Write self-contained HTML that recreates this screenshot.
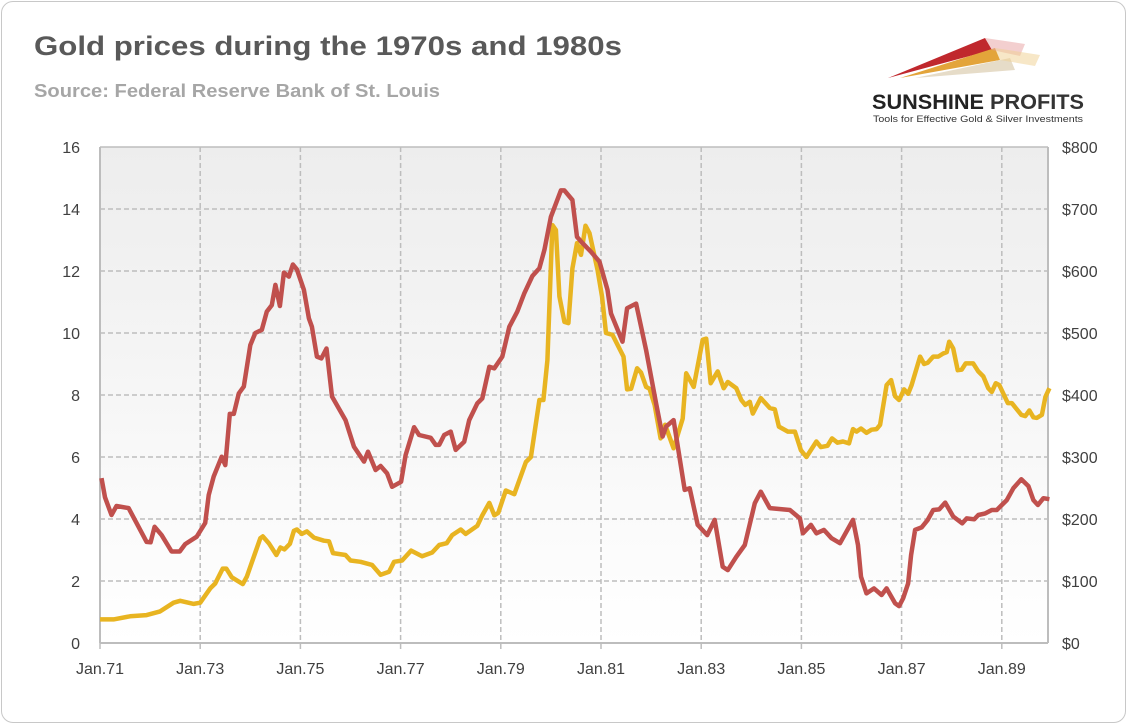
<!DOCTYPE html>
<html><head><meta charset="utf-8"><style>
html,body{margin:0;padding:0;background:#fff;}
body{width:1127px;height:724px;overflow:hidden;font-family:"Liberation Sans",sans-serif;}
.card{position:absolute;left:1px;top:1px;width:1123px;height:720px;border:1px solid #c8c8c8;border-radius:12px;background:#fff;}
</style></head><body>
<div class="card"></div>
<svg width="1127" height="724" style="position:absolute;left:0;top:0">
<defs>
<linearGradient id="bg" x1="0" y1="0" x2="0" y2="1"><stop offset="0" stop-color="#ededed"/><stop offset="1" stop-color="#ffffff"/></linearGradient>
</defs>
<text x="34" y="55" font-size="27" font-weight="bold" fill="#595959" textLength="588" lengthAdjust="spacingAndGlyphs">Gold prices during the 1970s and 1980s</text>
<text x="34" y="97" font-size="18" font-weight="bold" fill="#a6a6a6" textLength="406" lengthAdjust="spacingAndGlyphs">Source: Federal Reserve Bank of St. Louis</text>
<g>
<polygon points="888,78 985,38 992,50" fill="#c0282d"/>
<polygon points="900,78 995,48 1000,60" fill="#e3a43a"/>
<polygon points="915,78 1010,58 1015,70" fill="#e6dcc8"/>
<polygon points="985,38 1025,44 1020,56 992,50" fill="#e8a0a0" opacity="0.5"/>
<polygon points="995,48 1040,55 1035,66 1000,60" fill="#f0d090" opacity="0.5"/>
<text x="872" y="109" font-size="21" font-weight="bold" fill="#222" textLength="212" lengthAdjust="spacingAndGlyphs">SUNSHINE <tspan font-weight="bold" fill="#333">PROFITS</tspan></text>
<text x="873" y="122" font-size="9.5" fill="#333" textLength="210" lengthAdjust="spacingAndGlyphs">Tools for Effective Gold &amp; Silver Investments</text>
</g>
<rect x="100" y="147" width="948" height="496" fill="url(#bg)"/>
<g id="grid"></g>
<g id="axes"></g>
<g id="series"></g>
</svg>
<script>
const leftTicks=[0,2,4,6,8,10,12,14,16];
const rightTicks=["$0","$100","$200","$300","$400","$500","$600","$700","$800"];
const xTickYears=[1971,1973,1975,1977,1979,1981,1983,1985,1987,1989];
const xTickLabels=["Jan.71","Jan.73","Jan.75","Jan.77","Jan.79","Jan.81","Jan.83","Jan.85","Jan.87","Jan.89"];
const redT=[1971.03,1971.1,1971.23,1971.33,1971.57,1971.93,1972.01,1972.09,1972.23,1972.43,1972.59,1972.7,1972.93,1973.1,1973.17,1973.27,1973.43,1973.5,1973.59,1973.67,1973.77,1973.87,1974.0,1974.1,1974.23,1974.33,1974.43,1974.5,1974.59,1974.67,1974.77,1974.85,1974.93,1975.07,1975.17,1975.23,1975.33,1975.42,1975.52,1975.63,1975.9,1976.07,1976.27,1976.35,1976.5,1976.6,1976.73,1976.83,1977.01,1977.1,1977.27,1977.37,1977.6,1977.7,1977.77,1977.87,1978.0,1978.1,1978.27,1978.37,1978.53,1978.63,1978.77,1978.87,1979.03,1979.17,1979.33,1979.47,1979.63,1979.77,1979.87,1980.0,1980.2,1980.27,1980.43,1980.52,1980.63,1980.8,1980.97,1981.13,1981.2,1981.43,1981.52,1981.7,1981.9,1982.1,1982.23,1982.3,1982.45,1982.67,1982.77,1982.93,1983.12,1983.27,1983.43,1983.53,1983.7,1983.87,1984.07,1984.19,1984.37,1984.77,1984.97,1985.03,1985.19,1985.3,1985.45,1985.6,1985.77,1986.03,1986.13,1986.19,1986.3,1986.45,1986.6,1986.7,1986.87,1986.95,1987.03,1987.13,1987.19,1987.27,1987.4,1987.52,1987.63,1987.75,1987.87,1988.03,1988.21,1988.3,1988.45,1988.53,1988.67,1988.8,1988.9,1989.0,1989.1,1989.23,1989.39,1989.53,1989.63,1989.72,1989.83,1989.95];
const redV=[5.32,4.7,4.13,4.42,4.35,3.26,3.25,3.75,3.48,2.95,2.95,3.19,3.43,3.87,4.77,5.37,6.01,5.74,7.39,7.39,8.05,8.27,9.61,10.0,10.1,10.69,10.9,11.55,10.87,11.95,11.82,12.21,12.05,11.39,10.47,10.2,9.24,9.18,9.5,7.95,7.19,6.33,5.85,6.17,5.58,5.71,5.47,5.04,5.2,6.06,6.96,6.71,6.62,6.39,6.39,6.71,6.82,6.23,6.49,7.19,7.73,7.89,8.91,8.86,9.24,10.2,10.69,11.28,11.84,12.09,12.68,13.75,14.6,14.6,14.29,13.1,12.9,12.62,12.3,11.39,10.63,9.72,10.8,10.95,9.45,7.73,6.66,6.98,7.19,4.94,4.99,3.81,3.48,3.97,2.46,2.35,2.78,3.16,4.51,4.88,4.35,4.29,4.02,3.54,3.81,3.54,3.65,3.38,3.22,3.97,3.16,2.14,1.6,1.76,1.55,1.76,1.28,1.19,1.44,1.92,2.84,3.65,3.73,3.97,4.29,4.31,4.53,4.08,3.86,4.02,3.99,4.13,4.18,4.29,4.29,4.45,4.61,4.99,5.28,5.06,4.61,4.45,4.67,4.64];
const goldT=[1971.0,1971.27,1971.6,1971.93,1972.2,1972.47,1972.6,1972.87,1973.0,1973.2,1973.3,1973.45,1973.52,1973.63,1973.85,1973.93,1974.2,1974.25,1974.37,1974.52,1974.6,1974.68,1974.79,1974.87,1974.93,1975.03,1975.13,1975.27,1975.47,1975.57,1975.65,1975.9,1976.0,1976.2,1976.43,1976.6,1976.77,1976.87,1977.03,1977.21,1977.43,1977.63,1977.77,1977.92,1978.03,1978.2,1978.3,1978.53,1978.63,1978.77,1978.87,1978.95,1979.1,1979.27,1979.5,1979.6,1979.77,1979.85,1979.93,1980.03,1980.1,1980.17,1980.27,1980.35,1980.43,1980.52,1980.6,1980.69,1980.77,1980.93,1981.02,1981.1,1981.23,1981.45,1981.52,1981.6,1981.72,1981.8,1981.9,1981.97,1982.07,1982.19,1982.28,1982.45,1982.63,1982.7,1982.85,1983.03,1983.1,1983.19,1983.33,1983.45,1983.53,1983.7,1983.8,1983.88,1983.97,1984.03,1984.19,1984.37,1984.47,1984.55,1984.73,1984.87,1984.99,1985.1,1985.3,1985.39,1985.52,1985.61,1985.72,1985.83,1985.95,1986.03,1986.1,1986.19,1986.3,1986.4,1986.5,1986.57,1986.7,1986.79,1986.87,1986.95,1987.05,1987.13,1987.2,1987.37,1987.45,1987.52,1987.63,1987.73,1987.83,1987.9,1987.95,1988.03,1988.12,1988.2,1988.28,1988.43,1988.53,1988.63,1988.73,1988.8,1988.88,1988.95,1989.12,1989.2,1989.39,1989.47,1989.55,1989.63,1989.7,1989.8,1989.87,1989.95];
const goldV=[38,38,43,45,51,65,68,63,65,88,96,120,120,106,95,107,169,172,161,142,154,151,160,181,183,176,180,170,165,164,145,142,133,131,126,110,115,131,133,149,140,146,158,161,174,183,176,189,206,226,206,210,246,240,292,300,392,392,456,674,666,559,518,516,604,645,626,673,661,602,559,500,497,462,409,410,443,436,413,410,384,330,352,314,362,435,413,489,491,419,438,411,421,411,392,384,389,370,395,379,377,349,341,341,311,300,325,316,318,330,323,325,322,345,341,346,339,344,345,352,416,424,398,392,409,402,416,462,450,452,462,462,467,469,486,475,440,441,451,451,438,430,411,405,419,416,387,387,368,366,375,364,363,368,397,411];
const X0=100,X1=1048,Y0=643,Y1=147;
const xs=t=>X0+(t-1971)*50.1;
const yL=v=>Y0-v*(Y0-Y1)/16;
const yR=v=>Y0-v*(Y0-Y1)/800;
const NS="http://www.w3.org/2000/svg";
function mk(tag,attrs,parent,text){const e=document.createElementNS(NS,tag);for(const k in attrs)e.setAttribute(k,attrs[k]);if(text!==undefined)e.textContent=text;parent.appendChild(e);return e;}
const gridG=document.getElementById('grid'),axesG=document.getElementById('axes'),serG=document.getElementById('series');
leftTicks.forEach((v,i)=>{
  const y=yL(v);
  if(i>0&&i<leftTicks.length-1){const l=mk('line',{x1:X0,x2:X1,y1:y,y2:y,stroke:'#bdbdbd','stroke-width':1.5,'stroke-dasharray':'5,3'},gridG);
  
  }
  const t=mk('text',{x:80,y:y+6,'text-anchor':'end','font-size':16,fill:'#404040'},axesG,String(v));
  
  
  const r=mk('text',{x:1062,y:y+6,'font-size':16,fill:'#404040'},axesG,rightTicks[i]);
  
  
});
xTickYears.forEach((yr,i)=>{
  const x=xs(yr);
  if(i>0){const l=mk('line',{x1:x,x2:x,y1:Y1,y2:Y0,stroke:'#bdbdbd','stroke-width':1.5,'stroke-dasharray':'5,3'},gridG);
  
  }
  mk('line',{x1:x,x2:x,y1:Y0,y2:Y0+6,stroke:'#bdbdbd','stroke-width':1.5},axesG);
  const t=mk('text',{x:x,y:674,'text-anchor':'middle','font-size':16,fill:'#404040'},axesG,xTickLabels[i]);
  
  
});
const plotTop=mk('line',{x1:X0,x2:X1,y1:Y1,y2:Y1,stroke:'#bdbdbd','stroke-width':1.5},gridG);


const xAxisLine=mk('line',{x1:X0,x2:X1,y1:Y0,y2:Y0,stroke:'#bdbdbd','stroke-width':2},axesG);


const leftAxisLine=mk('line',{x1:X0,x2:X0,y1:Y1,y2:Y0,stroke:'#bdbdbd','stroke-width':2},axesG);


const rightAxisLine=mk('line',{x1:X1,x2:X1,y1:Y1,y2:Y0,stroke:'#bdbdbd','stroke-width':2},axesG);


const goldLine=mk('polyline',{points:goldT.map((t,i)=>xs(t).toFixed(1)+','+yR(goldV[i]).toFixed(1)).join(' '),fill:'none',stroke:'#e8b421','stroke-width':4.5,'stroke-linejoin':'round'},serG);


const redLine=mk('polyline',{points:redT.map((t,i)=>xs(t).toFixed(1)+','+yL(redV[i]).toFixed(1)).join(' '),fill:'none',stroke:'#c0504d','stroke-width':4.5,'stroke-linejoin':'round'},serG);


</script>
</body></html>
